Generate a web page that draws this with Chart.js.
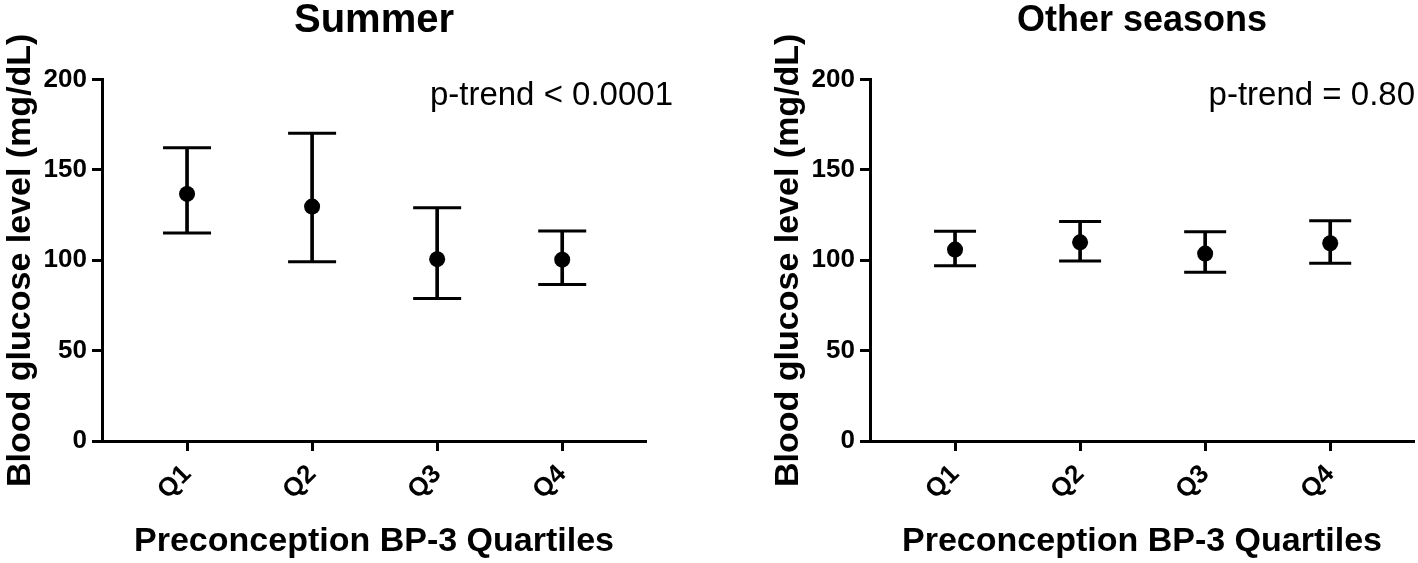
<!DOCTYPE html>
<html>
<head>
<meta charset="utf-8">
<script src="https://cdn.jsdelivr.net/npm/chart.js@4"></script>
<style>
  html, body { margin: 0; padding: 0; background: #fff; }
  body { width: 1418px; height: 563px; position: relative; overflow: hidden; }
  .panel { position: absolute; top: 0; height: 563px; }
  #left { left: 0; width: 768px; }
  #right { left: 768px; width: 650px; }
</style>
</head>
<body>
<div class="panel" id="left"><canvas id="summer"></canvas></div>
<div class="panel" id="right"><canvas id="other"></canvas></div>
<script>
const quartiles = ["Q1", "Q2", "Q3", "Q4"];
const quartilePos = [1, 2, 3, 4];
const yTicks = [0, 50, 100, 150, 200];

// Summer: mean with 95% CI
const summerMean = [136.7, 129.7, 100.6, 100.3];
const summerLow = [115.1, 99.2, 78.8, 86.6];
const summerHigh = [162.3, 170.2, 129.0, 116.2];

// Other seasons
const otherMean = [105.9, 109.9, 103.7, 109.4];
const otherLow = [96.9, 99.6, 93.4, 98.3];
const otherHigh = [116.0, 121.4, 115.7, 121.9];

const INK = "#000";
const SANS = "'Liberation Sans', Arial, Helvetica, sans-serif";

// p-trend label, anchored to the chart area
const pTrendPlugin = {
  id: "pTrend",
  afterDraw(chart, args, opts) {
    const { ctx, chartArea } = chart;
    ctx.save();
    ctx.fillStyle = INK;
    ctx.font = `normal 33px ${SANS}`;
    ctx.textAlign = "right";
    ctx.textBaseline = "alphabetic";
    ctx.fillText(opts.text, chartArea.right + opts.dx, opts.y);
    ctx.restore();
  },
};

function buildChart(canvasId, title, titleSize, mean, low, high, capR, padRight, pText, pDx) {
  const pts = (vals) => quartilePos.map((x, i) => ({ x, y: vals[i] }));
  const stems = quartilePos.map((x, i) => ({ x, y: [low[i], high[i]] }));

  const tickGrid = {
    display: true,
    offset: false,
    drawOnChartArea: false,
    drawTicks: true,
    tickLength: 10,
    tickWidth: 3,
    tickColor: INK,
  };

  return new Chart(document.getElementById(canvasId), {
    type: "scatter",
    data: {
      datasets: [
        {
          type: "scatter",
          data: pts(mean),
          pointStyle: "circle",
          pointRadius: 8,
          pointBackgroundColor: INK,
          pointBorderColor: INK,
          pointBorderWidth: 0,
        },
        {
          type: "scatter",
          data: pts(high),
          pointStyle: "line",
          pointRadius: capR,
          pointBorderColor: INK,
          pointBorderWidth: 3,
        },
        {
          type: "scatter",
          data: pts(low),
          pointStyle: "line",
          pointRadius: capR,
          pointBorderColor: INK,
          pointBorderWidth: 3,
        },
        {
          type: "bar",
          data: stems,
          barThickness: 3,
          backgroundColor: INK,
          borderWidth: 0,
        },
      ],
    },
    options: {
      responsive: true,
      maintainAspectRatio: false,
      animation: false,
      events: [],
      layout: {
        autoPadding: false,
        padding: { left: 0, right: padRight, top: 0, bottom: 0 },
      },
      scales: {
        x: {
          type: "linear",
          offset: false,
          min: 0.32,
          max: 4.67,
          afterBuildTicks: (s) => {
            s.ticks = quartilePos.map((v) => ({ value: v }));
          },
          afterFit: (s) => {
            s.height = 122;
            s.paddingLeft = 0;
            s.paddingRight = 0;
          },
          border: { display: true, color: INK, width: 3 },
          grid: tickGrid,
          ticks: {
            color: INK,
            font: { family: SANS, size: 26, weight: "bold" },
            minRotation: 45,
            maxRotation: 45,
            padding: 8,
            callback: (v) => quartiles[quartilePos.indexOf(v)],
          },
          title: {
            display: true,
            text: "Preconception BP-3 Quartiles",
            color: INK,
            font: { family: SANS, size: 34, weight: "bold", lineHeight: 1.2 },
            padding: { top: 0, bottom: 1 },
          },
        },
        y: {
          type: "linear",
          min: 0,
          max: 200,
          afterBuildTicks: (s) => {
            s.ticks = yTicks.map((v) => ({ value: v }));
          },
          afterFit: (s) => {
            s.width = 102;
          },
          border: { display: true, color: INK, width: 3 },
          grid: tickGrid,
          ticks: {
            color: INK,
            font: { family: SANS, size: 26, weight: "bold" },
            padding: 5,
          },
          title: {
            display: true,
            text: "Blood glucose level (mg/dL)",
            color: INK,
            font: { family: SANS, size: 34, weight: "bold", lineHeight: 1.2 },
            padding: { top: 0, bottom: 0 },
          },
        },
      },
      plugins: {
        legend: { display: false },
        tooltip: { enabled: false },
        title: {
          display: true,
          fullSize: false,
          text: title,
          color: INK,
          font: { family: SANS, size: titleSize, weight: "bold", lineHeight: 1.0 },
          padding: { top: 1 + (40 - titleSize) / 2, bottom: 38.5 + (40 - titleSize) / 2 },
        },
        pTrend: { text: pText, dx: pDx, y: 105 },
      },
    },
    plugins: [pTrendPlugin],
  });
}

buildChart("summer", "Summer", 40, summerMean, summerLow, summerHigh, 24, 122, "p-trend < 0.0001", 27);
buildChart("other", "Other seasons", 36, otherMean, otherLow, otherHigh, 21, 4, "p-trend = 0.80", 1);
</script>
</body>
</html>
